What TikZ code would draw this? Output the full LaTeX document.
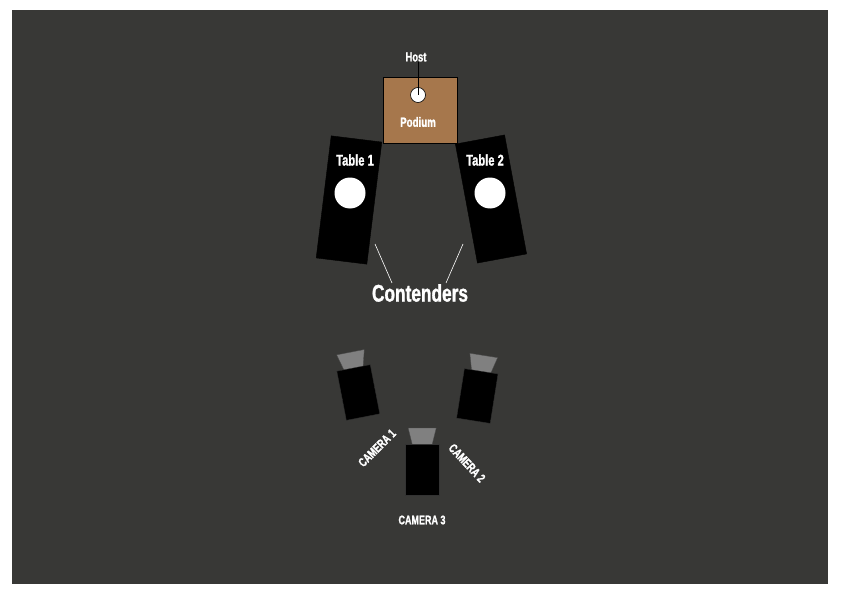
\documentclass[tikz,border=0pt]{standalone}
\usepackage{fontspec}
\setmainfont{Liberation Sans}[FakeStretch=0.72,BoldFont={* Bold},BoldFeatures={FakeStretch=0.72,FakeBold=1.2}]
\usepackage{tikz}
\usetikzlibrary{positioning,calc}
\definecolor{stage-dark}{RGB}{56,56,54}
\definecolor{podium-brown}{RGB}{166,119,76}
\definecolor{lens-grey}{RGB}{128,128,128}
\tikzset{every node/.style={font=\bfseries,text=white,inner sep=0pt}}

\begin{document}
\begin{tikzpicture}[
  x=1pt, y=-1pt,
  tablebox/.style={
    rectangle,
    fill=black,
    draw=black,
    minimum width=51pt,
    minimum height=123pt
  },
  seat/.style={
    circle,
    fill=white,
    minimum size=31pt
  },
  lens/.style={
    fill=lens-grey,
    draw=black!70,
    line width=0.3pt
  },
  body/.style={
    fill=black,
    draw=black!80,
    line width=0.3pt
  },
  pointer/.style={
    draw=white,
    line width=0.6pt
  },
  camlabel/.style={
    font=\fontsize{12.5}{13}\bfseries
  }
]
\useasboundingbox (0,0) rectangle (842,596);
\fill[white] (0,0) rectangle (842,596);
\fill[stage-dark] (11.5,10.5) rectangle (828,583.5);

% Podium and host
\node[rectangle, fill=podium-brown, draw=black, line width=0.6pt,
  minimum width=74pt, minimum height=66pt] (podium) at (420,110) {};
\node[font=\fontsize{13.5}{14}\bfseries] (podiumtext) at (418,122) {Podium};
\node[circle, fill=white, draw=black, line width=0.6pt, minimum size=15pt] (host) at (418,95) {};
\node[font=\fontsize{13}{14}\bfseries] (hosttext) at (416,57) {Host};
\draw[black, line width=0.8pt] (host.center |- hosttext.south) -- (host.center);

% Tables
\node[tablebox, rotate=-7] (table1) at (349,200) {};
\node[tablebox, rotate=10.5, minimum width=50pt, minimum height=121pt] (table2) at (491,199) {};
\node[seat] (seat1) at (350,193) {};
\node[seat] (seat2) at (490,193) {};
\node[font=\fontsize{15.5}{16}\bfseries] (table1text) at (355,160) {Table 1};
\node[font=\fontsize{15.5}{16}\bfseries] (table2text) at (485,160) {Table 2};

% Contenders
\node[font=\fontsize{24}{25}\bfseries] (contenders) at (420,293) {Contenders};
\coordinate (pointer1) at (375,244);
\coordinate (pointer2) at (463,244);
\draw[pointer] (pointer1) -- ([xshift=-28pt,yshift=1pt]contenders.north);
\draw[pointer] (pointer2) -- ([xshift=26pt,yshift=1pt]contenders.north);

% Cameras
\begin{scope}[shift={(358.3,392.5)}, rotate=11]
  \fill[lens] (-9.5,-24) -- (-14,-41) -- (14,-41) -- (9.5,-24) -- cycle;
  \filldraw[body] (-17,-25) rectangle (17,25);
\end{scope}
\begin{scope}[shift={(477.3,396)}, rotate=-9]
  \fill[lens] (-9.5,-24) -- (-14,-41) -- (14,-41) -- (9.5,-24) -- cycle;
  \filldraw[body] (-17,-25) rectangle (17,25);
\end{scope}
\begin{scope}[shift={(422.2,470)}]
  \fill[lens] (-9.5,-24) -- (-14,-42) -- (14,-42) -- (9.5,-24) -- cycle;
  \filldraw[body] (-17,-25.5) rectangle (17,25.5);
\end{scope}
\node[camlabel, rotate=45] (camera1) at (377,448) {CAMERA 1};
\node[camlabel, rotate=-47] (camera2) at (467,463) {CAMERA 2};
\node[camlabel] (camera3) at (422,520) {CAMERA 3};

\end{tikzpicture}
\end{document}
